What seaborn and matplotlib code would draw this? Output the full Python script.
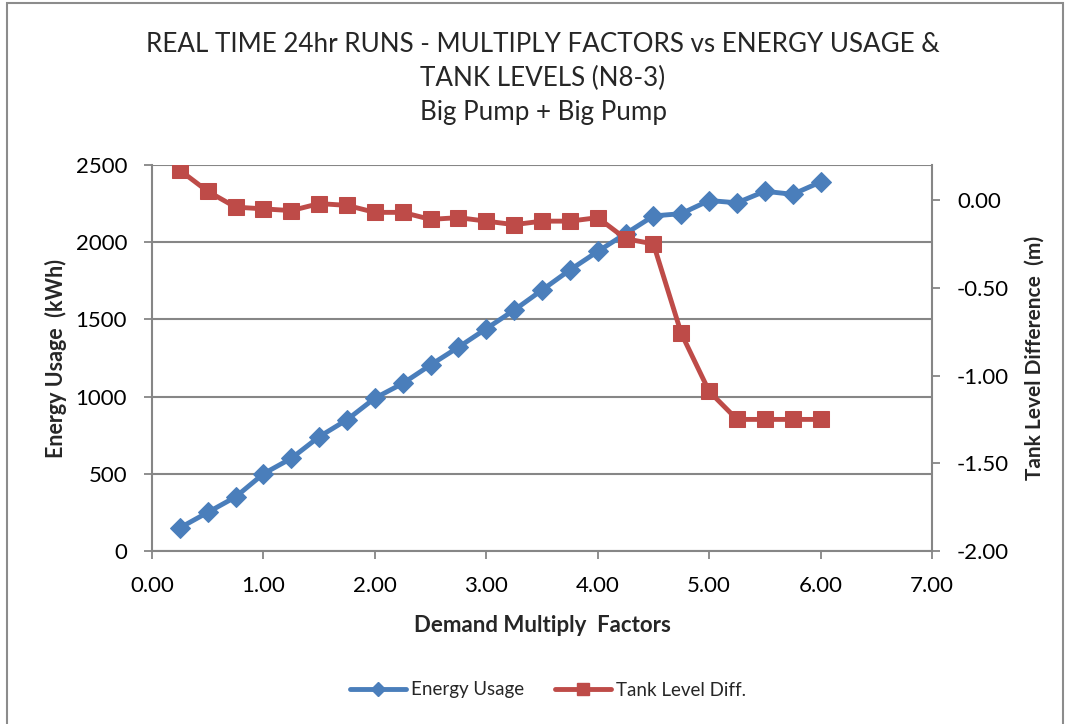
import matplotlib
matplotlib.use("Agg")
import matplotlib.pyplot as plt
import seaborn as sns
import pandas as pd
from matplotlib.lines import Line2D
from matplotlib.patches import Rectangle

# ---- data ----
factors = [0.25, 0.50, 0.75, 1.00, 1.25, 1.50, 1.75, 2.00, 2.25, 2.50, 2.75, 3.00,
           3.25, 3.50, 3.75, 4.00, 4.25, 4.50, 4.75, 5.00, 5.25, 5.50, 5.75, 6.00]
energy_usage = [150, 250, 350, 500, 600, 740, 850, 990, 1085, 1205, 1320, 1440,
                1560, 1690, 1820, 1940, 2055, 2170, 2185, 2270, 2255, 2330, 2310, 2390]
tank_level_diff = [0.17, 0.05, -0.04, -0.05, -0.06, -0.02, -0.03, -0.07, -0.07, -0.11, -0.10, -0.12,
                   -0.14, -0.12, -0.12, -0.10, -0.22, -0.25, -0.76, -1.09, -1.25, -1.25, -1.25, -1.25]
x_ticks = [0, 1, 2, 3, 4, 5, 6, 7]
left_ticks = [0, 500, 1000, 1500, 2000, 2500]
right_ticks = [0.0, -0.5, -1.0, -1.5, -2.0]

title = "REAL TIME 24hr RUNS - MULTIPLY FACTORS vs ENERGY USAGE &\nTANK LEVELS (N8-3)\nBig Pump + Big Pump"

df = pd.DataFrame({"factor": factors, "energy": energy_usage, "tank": tank_level_diff})

sns.set_style("white")
plt.rcParams["font.family"] = ["Lato", "DejaVu Sans"]

blue = "#4A7EBB"
red = "#BE4B48"
grid_c = "#868686"

fig = plt.figure(figsize=(10.67, 7.24), dpi=100)
ax = fig.add_axes([152 / 1067, 1 - 551 / 724, (932 - 152) / 1067, (551 - 165) / 724])
ax2 = ax.twinx()

sns.lineplot(data=df, x="factor", y="energy", ax=ax, color=blue, linewidth=3.5,
             marker="D", markersize=10, markeredgecolor=blue, zorder=3)
sns.lineplot(data=df, x="factor", y="tank", ax=ax2, color=red, linewidth=3.5,
             marker="s", markersize=12, markeredgecolor=red, zorder=3)

ax.set_xlim(0, 7)
ax.set_ylim(0, 2500)
ax2.set_ylim(-2.0, 0.2)
ax.set_xticks(x_ticks)
ax.set_xticklabels([f"{v:.2f}" for v in x_ticks])
ax.set_yticks(left_ticks)
ax2.set_yticks(right_ticks)
ax2.set_yticklabels([f"{v:.2f}" for v in right_ticks])

ax.yaxis.grid(True, color=grid_c, linewidth=1.5)
ax.set_axisbelow(True)
for a in (ax, ax2):
    for s in a.spines.values():
        s.set_visible(False)
ax.spines["left"].set_visible(True)
ax.spines["left"].set_color(grid_c)
ax.spines["left"].set_linewidth(1.5)
ax.spines["bottom"].set_visible(True)
ax.spines["bottom"].set_color(grid_c)
ax.spines["bottom"].set_linewidth(1.5)
ax2.spines["right"].set_visible(True)
ax2.spines["right"].set_color(grid_c)
ax2.spines["right"].set_linewidth(1.5)

ax.tick_params(axis="both", which="both", direction="out", length=6, width=1.3,
               color=grid_c, labelsize=16, labelcolor="black", pad=8)
ax.tick_params(axis="y", left=True, pad=12)
ax.tick_params(axis="x", bottom=True, pad=12)
ax2.tick_params(axis="y", direction="out", length=6, width=1.3, color=grid_c,
                labelsize=16, labelcolor="black", right=True, pad=12)

ax.set_xlabel("Demand Multiply  Factors", fontsize=16, fontweight="bold")
ax.set_ylabel("Energy Usage  (kWh)", fontsize=15.5, fontweight="bold")
ax2.set_ylabel("Tank Level Difference  (m)", fontsize=15, fontweight="bold")
ax.xaxis.set_label_coords(0.5, -(625 - 551) / 386, transform=ax.transAxes)
ax.yaxis.set_label_coords((56 - 152) / 780, 0.5, transform=ax.transAxes)
ax2.yaxis.set_label_coords((1035 - 152) / 780, 0.5, transform=ax2.transAxes)
for lab in (ax.xaxis.label, ax.yaxis.label, ax2.yaxis.label):
    lab.set_va("center")
if ax.get_legend():
    ax.get_legend().remove()
if ax2.get_legend():
    ax2.get_legend().remove()

fig.text(543 / 1067, 1 - 32 / 724, title, ha="center", va="top", fontsize=18.7,
         linespacing=1.45)

handles = [Line2D([], [], color=blue, linewidth=3.5, marker="D", markersize=7),
           Line2D([], [], color=red, linewidth=3.5, marker="s", markersize=8)]
fig.legend(handles, ["Energy Usage", "Tank Level Diff."], loc="center",
           bbox_to_anchor=(548 / 1067, 1 - 690 / 724), ncol=2, frameon=False,
           fontsize=13.5, handlelength=3.0, columnspacing=1.6, handletextpad=0.3)

fig.patches.append(Rectangle((7 / 1067, -0.01), (1063 - 7) / 1067, 1 - 3 / 724 + 0.01,
                             transform=fig.transFigure, fill=False,
                             edgecolor="#8C8C8C", linewidth=1.5))

fig.savefig("out.png", dpi=100)
